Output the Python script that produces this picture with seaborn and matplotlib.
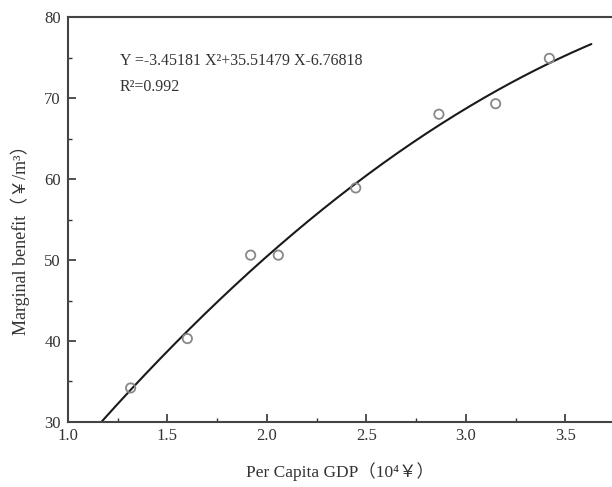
import numpy as np
import pandas as pd
import matplotlib
matplotlib.use('Agg')
import matplotlib.pyplot as plt
from matplotlib.ticker import MultipleLocator
import seaborn as sns

# 观测点
gdp = [1.315, 1.60, 1.918, 2.057, 2.446, 2.864, 3.149, 3.419]
benefit = [34.2, 40.3, 50.6, 50.6, 58.9, 68.0, 69.3, 74.9]

# 拟合曲线系数 (图中给出的方程)
coef = [-3.45181, 35.51479, -6.76818]
x_start, x_end = 1.168, 3.63

sns.set_style('ticks')
plt.rcParams['font.family'] = ['Liberation Serif', 'Noto Sans CJK SC', 'DejaVu Sans']

fig = plt.figure(figsize=(6.12, 4.87), dpi=100)
ax = fig.add_axes([0.111, 0.1335, 0.889, 0.8315])

xs = np.linspace(x_start, x_end, 200)
curve = pd.DataFrame({'x': xs, 'y': np.polyval(coef, xs)})
sns.lineplot(data=curve, x='x', y='y', ax=ax, color='#1a1a1a', linewidth=1.5)

pts = pd.DataFrame({'gdp': gdp, 'benefit': benefit})
sns.scatterplot(data=pts, x='gdp', y='benefit', ax=ax, marker='o', s=45,
                facecolor='none', edgecolor='#888888', linewidth=1.3, zorder=3)

ax.set_xlim(1.0, 1 + 544 / 199)
ax.set_ylim(30, 80)
ax.xaxis.set_major_locator(MultipleLocator(0.5))
ax.xaxis.set_minor_locator(MultipleLocator(0.25))
ax.yaxis.set_major_locator(MultipleLocator(10))
ax.yaxis.set_minor_locator(MultipleLocator(5))
ax.tick_params(which='major', direction='in', length=6, width=1.2, colors='#333333',
               labelsize=12, labelcolor='#333333', pad=5)
ax.tick_params(which='minor', direction='in', length=3, width=1.0, colors='#333333')
ax.tick_params(axis='x', which='major', pad=4)
ax.xaxis.set_major_formatter(matplotlib.ticker.FormatStrFormatter('%.1f'))

for s in ['left', 'bottom', 'top']:
    ax.spines[s].set_linewidth(1.5)
    ax.spines[s].set_color('#444444')
ax.spines['right'].set_visible(False)

ax.set_xlabel('Per Capita GDP（10⁴￥）', fontsize=12.5, color='#333333')
ax.set_ylabel('Marginal benefit（￥/m³）', fontsize=13, color='#333333')
ax.xaxis.set_label_coords(0.5, -0.1)
ax.yaxis.set_label_coords(-0.069, 0.46)

ax.text(1.26, 74.6, 'Y =-3.45181 X²+35.51479 X-6.76818', fontsize=11.5,
        color='#333333', va='center')
ax.text(1.26, 71.4, 'R²=0.992', fontsize=11.5, color='#333333', va='center')

fig.savefig('out.png', dpi=100)
